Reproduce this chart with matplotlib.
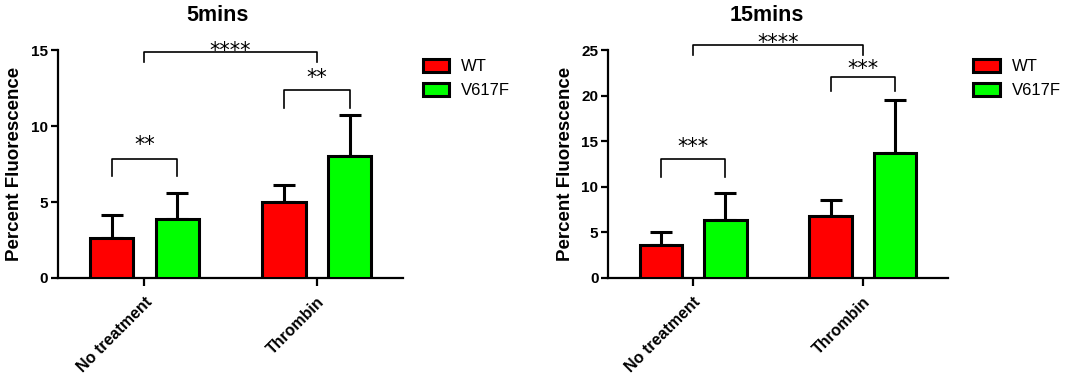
import matplotlib
matplotlib.use("Agg")
import matplotlib.pyplot as plt
from matplotlib.patches import Patch
import numpy as np

plt.rcParams['font.family'] = ['Liberation Sans', 'DejaVu Sans']

# Data
groups = ["No treatment", "Thrombin"]
series = ["WT", "V617F"]
colors = ["#ff0000", "#00ff00"]

mean_5 = {"WT": [2.65, 4.98], "V617F": [3.86, 8.05]}
sd_5 = {"WT": [1.49, 1.12], "V617F": [1.71, 2.65]}

mean_15 = {"WT": [3.65, 6.82], "V617F": [6.31, 13.69]}
sd_15 = {"WT": [1.39, 1.68], "V617F": [3.00, 5.81]}

# significance brackets: (x_left, x_right, bar_height, leg_bottom, label_center, label)
sig_5 = [(-0.19, 0.19, 7.8, 6.7, 9.1, "**"),
         (0.81, 1.19, 12.4, 11.2, 13.55, "**"),
         (0.0, 1.0, 14.85, 14.2, 15.3, "****")]
sig_15 = [(-0.19, 0.19, 13.0, 11.1, 14.96, "***"),
          (0.81, 1.19, 22.0, 20.5, 23.5, "***"),
          (0.0, 1.0, 25.6, 24.5, 26.35, "****")]

fig = plt.figure(figsize=(10.65, 3.78), dpi=100)

# (title, means, sds, brackets, axes rect, ymax, ystep, title x, legend x, ylabel x)
panels = [
    ("5mins", mean_5, sd_5, sig_5, [0.0545, 0.2646, 0.324, 0.603], 15, 5, 0.204, 0.397, 0.014),
    ("15mins", mean_15, sd_15, sig_15, [0.571, 0.2646, 0.319, 0.603], 25, 5, 0.720, 0.914, 0.531),
]

x = np.arange(len(groups))
offset = 0.19
width = 0.25
star_size = 15

for title, means, sds, sigs, rect, ymax, ystep, title_x, leg_x, ylab_x in panels:
    ax = fig.add_axes(rect)
    for i, s in enumerate(series):
        xs = x + (-offset if i == 0 else offset)
        ax.bar(xs, means[s], width=width, color=colors[i], edgecolor="black",
               linewidth=2.2, zorder=3)
        ax.errorbar(xs, means[s], yerr=[np.zeros(len(groups)), sds[s]],
                    fmt="none", ecolor="black", elinewidth=2.2, capsize=8,
                    capthick=2.2, zorder=2)
    ax.set_xlim(-0.5, 1.5)
    ax.set_ylim(0, ymax)
    ax.set_yticks(np.arange(0, ymax + 0.1, ystep))
    ax.set_xticks(x)
    ax.set_xticklabels(groups, rotation=45, ha="right", rotation_mode="anchor",
                       fontsize=11.5, fontweight="bold")
    for lab in ax.get_yticklabels():
        lab.set_fontweight("bold")
        lab.set_fontsize(11)
    ax.spines["top"].set_visible(False)
    ax.spines["right"].set_visible(False)
    ax.spines["left"].set_linewidth(1.6)
    ax.spines["bottom"].set_linewidth(1.6)
    ax.tick_params(axis="both", width=1.6, length=5, pad=2)
    ax.tick_params(axis="x", length=6, pad=6)

    for xl, xr, yh, yb, yc, lab in sigs:
        ax.plot([xl, xl, xr, xr], [yb, yh, yh, yb], color="black", lw=1.2,
                clip_on=False, zorder=4)
        ax.annotate(lab, xy=((xl + xr) / 2, yc), xytext=(0, -0.56 * star_size),
                    textcoords="offset points", ha="center", va="baseline",
                    fontsize=star_size, family="DejaVu Sans", annotation_clip=False)

    fig.text(title_x, 0.958, title, ha="center", va="center", fontsize=15.5,
             fontweight="bold")
    fig.text(ylab_x, 0.567, "Percent Fluorescence", rotation=90, ha="center",
             va="center", fontsize=13.5, fontweight="bold")

    handles = [Patch(facecolor=c, edgecolor="black", linewidth=2.2) for c in colors]
    fig.legend(handles, series, loc="upper left", bbox_to_anchor=(leg_x, 0.845),
               frameon=False, fontsize=12, handlelength=1.6, handleheight=0.9,
               handletextpad=0.7, labelspacing=0.5, borderpad=0, borderaxespad=0)

fig.savefig("out.png", dpi=100)
